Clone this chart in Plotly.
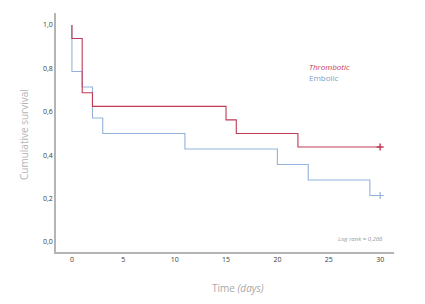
import plotly.graph_objects as go

# Kaplan-Meier step data
thr_time = [0, 0, 1, 2, 15, 16, 22, 30]
thr_surv = [1.0, 0.9375, 0.6875, 0.625, 0.5625, 0.5, 0.4375, 0.4375]
emb_time = [0, 0, 1, 2, 3, 11, 20, 23, 29, 30]
emb_surv = [1.0, 0.7857, 0.7143, 0.5714, 0.5, 0.4286, 0.3571, 0.2857, 0.2143, 0.2143]
x_ticks = [0, 5, 10, 15, 20, 25, 30]
y_ticks = [0.0, 0.2, 0.4, 0.6, 0.8, 1.0]

RED = "#bf3a55"
BLUE = "#92b2dc"
FONT = "Open Sans"

# page body has an 8px margin; compensate so the plot lands where the reference has it
OFF = 8
L, R, T, B = 56 - OFF, 31 + OFF, 13 - OFF, 52 + OFF

fig = go.Figure()
fig.add_trace(go.Scatter(x=emb_time, y=emb_surv, mode="lines", line=dict(color=BLUE, width=1.1, shape="hv"),
                         hoverinfo="skip", showlegend=False))
fig.add_trace(go.Scatter(x=thr_time, y=thr_surv, mode="lines", line=dict(color=RED, width=1.1, shape="hv"),
                         hoverinfo="skip", showlegend=False))
# censor markers
fig.add_trace(go.Scatter(x=[emb_time[-1]], y=[emb_surv[-1]], mode="markers",
                         marker=dict(symbol="cross-thin", size=5, line=dict(color=BLUE, width=1.2)),
                         showlegend=False, hoverinfo="skip"))
fig.add_trace(go.Scatter(x=[thr_time[-1]], y=[thr_surv[-1]], mode="markers",
                         marker=dict(symbol="cross-thin", size=5, line=dict(color=RED, width=1.4)),
                         showlegend=False, hoverinfo="skip"))

fig.update_layout(
    width=425, height=304,
    margin=dict(l=L, r=R, t=T, b=B, autoexpand=False),
    paper_bgcolor="white", plot_bgcolor="white",
    separators=", ",
    font=dict(family=FONT, size=7, color="#3a3a3a"),
    xaxis=dict(range=[-1.55, 31.35], tickvals=x_ticks, showgrid=False, zeroline=False, automargin=False,
               showline=True, linecolor="#b4b4b4", linewidth=1.5, ticks="",
               tickfont=dict(size=7, color="#3a3a3a")),
    yaxis=dict(range=[-0.046, 1.055], tickvals=y_ticks, tickformat=".1f", showgrid=False, zeroline=False,
               automargin=False,
               showline=True, linecolor="#b4b4b4", linewidth=1.5, ticks="",
               tickfont=dict(size=7, color="#3a3a3a")),
    annotations=[
        dict(x=22.9, y=0.81, xref="x", yref="y", text="<i>Thrombotic</i>", showarrow=False, xanchor="left",
             font=dict(size=8, color=RED, family=FONT)),
        dict(x=22.9, y=0.76, xref="x", yref="y", text="Embolic", showarrow=False, xanchor="left",
             font=dict(size=8, color="#7f9ec8", family=FONT)),
        dict(x=30.5, y=0.015, xref="x", yref="y", text="<i>Log rank = 0,266</i>", showarrow=False, xanchor="right",
             font=dict(size=6, color="#999999", family=FONT)),
        dict(x=238, y=288, xref="paper", yref="paper", text="Time <i>(days)</i>", showarrow=False,
             xanchor="center", yanchor="middle",
             font=dict(size=10, color="#a8a8a8", family=FONT)),
        dict(x=24, y=135, xref="paper", yref="paper", text="Cumulative survival", showarrow=False,
             xanchor="center", yanchor="middle",
             textangle=-90, font=dict(size=10, color="#b4b4b4", family=FONT)),
    ],
)

# convert screen-pixel positions to paper fractions
pw, ph = 425 - L - R, 304 - T - B
for a in fig.layout.annotations:
    if a.xref == "paper":
        sx, sy = a.x - OFF, a.y - OFF
        a.x = (sx - L) / pw
        a.y = (304 - sy - B) / ph

fig.write_html("out.html")
